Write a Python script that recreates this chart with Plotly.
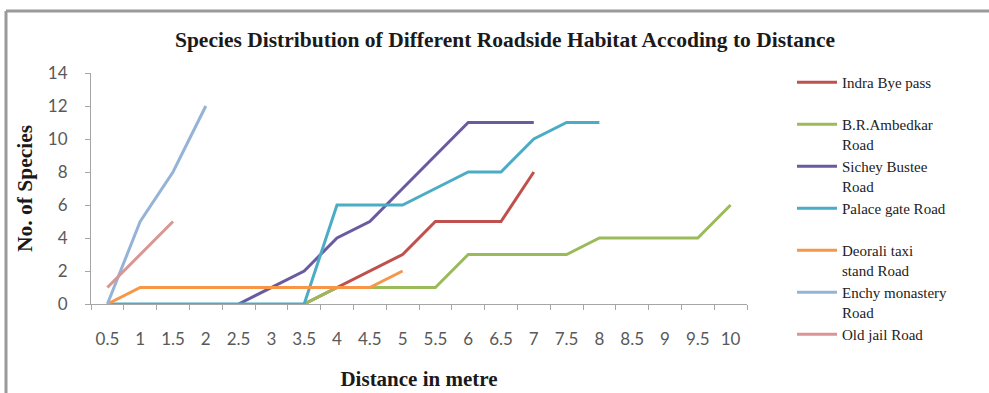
import plotly.graph_objects as go

# Distance categories (metres) along the x axis
distance = ["0.5", "1", "1.5", "2", "2.5", "3", "3.5", "4", "4.5", "5",
            "5.5", "6", "6.5", "7", "7.5", "8", "8.5", "9", "9.5", "10"]

# Number of species recorded per habitat at each distance
indra_bye_pass = [None, None, None, None, None, None, 0, 1, 2, 3, 5, 5, 5, 8]
br_ambedkar = [None, None, None, None, None, None, 0, 1, 1, 1, 1, 3, 3, 3, 3, 4, 4, 4, 4, 6]
sichey_bustee = [None, None, None, None, 0, 1, 2, 4, 5, 7, 9, 11, 11, 11]
palace_gate = [0, 0, 0, 0, 0, 0, 0, 6, 6, 6, 7, 8, 8, 10, 11, 11]
deorali_taxi = [0, 1, 1, 1, 1, 1, 1, 1, 1, 2]
enchy_monastery = [0, 5, 8, 12]
old_jail = [1, 3, 5]

series_names = [
    "Indra Bye pass<br> ",
    "B.R.Ambedkar<br>Road",
    "Sichey Bustee<br>Road",
    "Palace gate Road<br> ",
    "Deorali taxi<br>stand Road",
    "Enchy monastery<br>Road",
    "Old jail Road<br> ",
]
series_values = [indra_bye_pass, br_ambedkar, sichey_bustee, palace_gate,
                 deorali_taxi, enchy_monastery, old_jail]
series_colors = ["#C0504D", "#9BBB59", "#6A5AA0", "#4BACC6",
                 "#F79646", "#95B3D7", "#D99694"]

fig = go.Figure()
for name, vals, col in zip(series_names, series_values, series_colors):
    fig.add_trace(go.Scatter(
        x=distance[:len(vals)], y=vals, name=name, mode="lines",
        line=dict(color=col, width=3), connectgaps=False,
    ))

serif = "Liberation Serif"
sans = "Lato"

# plot area in pixels: x 91..747, y 73..304
L, R, T, B = 91, 747, 73, 304
W, H = 989, 393
pw, ph = R - L, B - T

def px_x(x):
    return (x - L) / pw

def px_y(y):
    return (B - y) / ph

fig.update_layout(
    width=W, height=H,
    margin=dict(l=L, r=W - R, t=T, b=H - B),
    paper_bgcolor="white", plot_bgcolor="white",
    title=dict(
        text="Species Distribution of Different Roadside Habitat Accoding to Distance",
        font=dict(family=serif, size=21.5, color="#1a1a1a", weight="bold"),
        x=505 / W, xanchor="center", y=1 - 39 / H, yanchor="middle",
    ),
    showlegend=True,
    legend=dict(
        x=px_x(792), xanchor="left", y=px_y(66), yanchor="top",
        font=dict(family=serif, size=15, color="#222222"),
        valign="top", bgcolor="rgba(0,0,0,0)", tracegroupgap=0,
        maxheight=1, itemwidth=40,
    ),
    xaxis=dict(
        type="category", categoryorder="array", categoryarray=distance,
        range=[-0.5, len(distance) - 0.5], automargin=False,
        showline=True, linecolor="#a6a6a6", linewidth=1,
        ticks="outside", tickson="boundaries", ticklen=5, tickcolor="#a6a6a6",
        showgrid=False, zeroline=False,
        tickfont=dict(family=sans, size=17, color="#595959"),
        ticklabelstandoff=20,
        title=dict(text="Distance in metre", standoff=22,
                   font=dict(family=serif, size=21, color="#1a1a1a", weight="bold")),
    ),
    yaxis=dict(
        range=[0, 14], tickvals=[0, 2, 4, 6, 8, 10, 12, 14], automargin=False,
        showline=True, linecolor="#a6a6a6", linewidth=1,
        ticks="outside", ticklen=5, tickcolor="#a6a6a6",
        showgrid=False, zeroline=False,
        tickfont=dict(family=sans, size=17, color="#595959"),
        ticklabelstandoff=14,
        title=dict(text="No. of Species", standoff=9,
                   font=dict(family=serif, size=21.5, color="#1a1a1a", weight="bold")),
    ),
    shapes=[
        # chart frame (left and top edges)
        dict(type="line", xref="paper", yref="paper",
             x0=px_x(6), x1=px_x(6), y0=px_y(11), y1=px_y(393),
             line=dict(color="#9a9a9a", width=3)),
        dict(type="line", xref="paper", yref="paper",
             x0=px_x(6), x1=px_x(989), y0=px_y(11), y1=px_y(11),
             line=dict(color="#9a9a9a", width=3)),
    ],
)

fig.write_html("out.html")
